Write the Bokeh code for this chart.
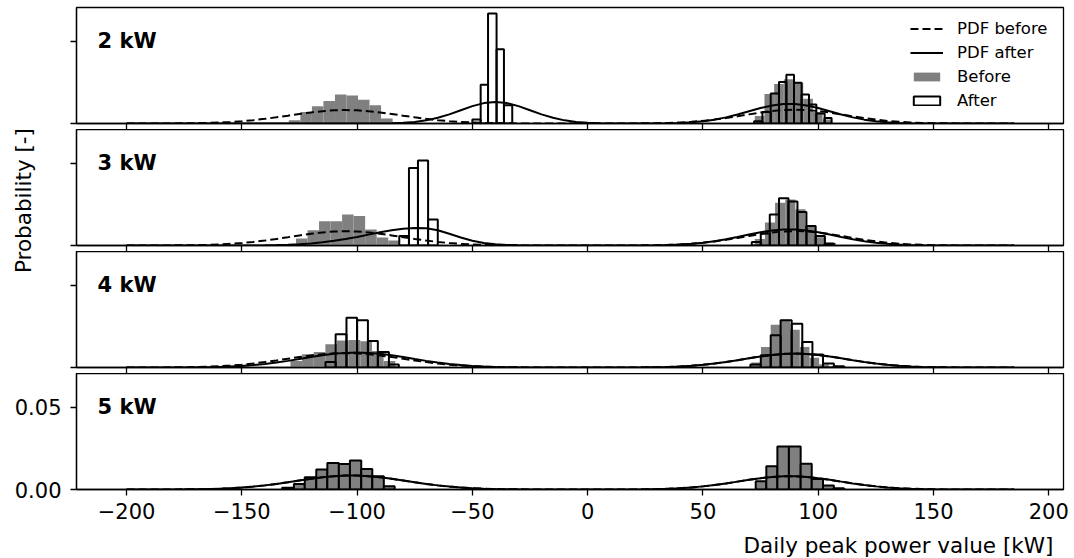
import math
from bokeh.plotting import figure
from bokeh.models import Range1d, FixedTicker, Label, Legend, LegendItem
from bokeh.layouts import column, row
from bokeh.embed import file_html
from bokeh.resources import INLINE

FONT = "DejaVu Sans"

# ---------------- axes / labels ----------------
x_start, x_end = -221.7, 206.4
y_top = 0.0706
x_ticks = [-200, -150, -100, -50, 0, 50, 100, 150, 200]
x_tick_labels = ["\u2212200", "\u2212150", "\u2212100", "\u221250", "0", "50", "100", "150", "200"]
y_ticks = [0.0, 0.05]
y_tick_labels = ["0.00", "0.05"]
panel_names = ["2 kW", "3 kW", "4 kW", "5 kW"]
x_label = "Daily peak power value [kW]"
y_label = "Probability [-]"
legend_labels = ["PDF before", "PDF after", "Before", "After"]

# ---------------- histograms (bin edges, heights) ----------------
# 2 kW
before_2kw_left_edges = [-129.6, -124.6, -119.6, -114.6, -109.6, -104.6, -99.6, -94.6, -89.6, -84.6]
before_2kw_left_h = [0.0020, 0.0070, 0.0105, 0.0137, 0.0176, 0.0171, 0.0145, 0.0111, 0.0030]
before_2kw_right_edges = [72.5, 76.7, 80.9, 85.1, 89.3, 93.5, 97.7, 101.9, 106.1]
before_2kw_right_h = [0.0045, 0.0180, 0.0240, 0.0270, 0.0250, 0.0150, 0.0070, 0.0025]
after_2kw_left_edges = [-50.0, -46.4, -43.2, -39.5, -36.3, -32.7]
after_2kw_left_h = [0.0024, 0.0236, 0.0670, 0.0452, 0.0111]
after_2kw_right_edges = [72.2, 75.8, 79.4, 83.0, 86.2, 89.5, 92.8, 96.0, 99.2, 102.8, 105.8]
after_2kw_right_h = [0.0014, 0.0070, 0.0182, 0.0252, 0.0297, 0.0248, 0.0176, 0.0115, 0.0061, 0.0034]
# 3 kW
before_3kw_left_edges = [-126.5, -121.5, -116.5, -111.5, -106.5, -101.5, -96.5, -91.5, -86.5, -81.5]
before_3kw_left_h = [0.0042, 0.0093, 0.0147, 0.0147, 0.0188, 0.0180, 0.0097, 0.0048, 0.0030]
before_3kw_right_edges = [72.5, 76.9, 81.3, 85.7, 90.1, 94.5, 98.9, 103.3, 107.7]
before_3kw_right_h = [0.0040, 0.0140, 0.0260, 0.0280, 0.0220, 0.0120, 0.0050, 0.0015]
after_3kw_left_edges = [-81.7, -77.5, -73.6, -69.2, -65.0]
after_3kw_left_h = [0.0058, 0.0472, 0.0517, 0.0158]
after_3kw_right_edges = [71.2, 75.1, 79.0, 83.0, 87.1, 91.0, 94.9, 98.9, 102.9, 106.8]
after_3kw_right_h = [0.0022, 0.0073, 0.0188, 0.0288, 0.0268, 0.0204, 0.0119, 0.0058, 0.0012]
# 4 kW
before_4kw_left_edges = [-128.9, -123.85, -118.8, -113.75, -108.7, -103.65, -98.6, -93.55, -88.5, -83.45]
before_4kw_left_h = [0.0040, 0.0081, 0.0094, 0.0141, 0.0165, 0.0168, 0.0160, 0.0100, 0.0040]
before_4kw_right_edges = [71.0, 75.2, 79.4, 83.6, 87.8, 92.0, 96.2, 100.4, 104.6]
before_4kw_right_h = [0.0030, 0.0125, 0.0260, 0.0290, 0.0230, 0.0125, 0.0060, 0.0020]
after_4kw_left_edges = [-113.7, -109.3, -104.6, -100.0, -95.3, -91.0, -86.2, -81.9]
after_4kw_left_h = [0.0034, 0.0202, 0.0303, 0.0287, 0.0161, 0.0094, 0.0018]
after_4kw_right_edges = [70.6, 75.1, 79.4, 83.7, 88.5, 93.1, 97.5, 102.1, 106.8, 111.2]
after_4kw_right_h = [0.0018, 0.0075, 0.0196, 0.0287, 0.0267, 0.0155, 0.0079, 0.0024, 0.0008]
# 5 kW (after identical to before)
before_5kw_left_edges = [-132.5, -127.4, -122.7, -117.7, -112.9, -107.9, -103.1, -98.2, -93.4, -88.4, -83.7]
before_5kw_left_h = [0.0010, 0.0034, 0.0075, 0.0121, 0.0161, 0.0155, 0.0176, 0.0125, 0.0081, 0.0020]
before_5kw_right_edges = [72.9, 77.5, 82.3, 87.3, 92.4, 97.2, 102.1, 106.8, 111.2]
before_5kw_right_h = [0.0050, 0.0141, 0.0262, 0.0262, 0.0157, 0.0064, 0.0024, 0.0008]
after_5kw_left_edges = before_5kw_left_edges
after_5kw_left_h = before_5kw_left_h
after_5kw_right_edges = before_5kw_right_edges
after_5kw_right_h = before_5kw_right_h

# ---------------- PDF curves (values in units of 1e-4), sampled at pdf_x ----------------
pdf_x = list(range(-200, 190, 5))
PDF_UNIT = 1e-4
pdf_before_2kw = [
    0.0, 0.1, 0.2, 0.3, 0.6, 1.2, 2.1, 3.6, 5.9, 9.3, 14.1, 20.4, 28.3, 37.6, 47.6, 58.0, 67.5, 75.2, 80.3, 82.0,
    80.3, 75.2, 67.5, 58.0, 47.6, 37.6, 28.3, 20.4, 14.1, 9.3, 5.9, 3.6, 2.1, 1.2, 0.6, 0.3, 0.2, 0.1, 0.0, 0.0,
    0.0, 0.1, 0.1, 0.3, 0.5, 1.1, 2.0, 3.7, 6.3, 10.3, 16.0, 23.7, 33.1, 44.0, 55.6, 66.5, 75.8, 81.9, 84.0,
    81.9, 75.8, 66.5, 55.6, 44.0, 33.1, 23.7, 16.0, 10.3, 6.3, 3.7, 2.0, 1.1, 0.5, 0.3, 0.1, 0.1, 0.0, 0.0]
pdf_after_2kw = [
    0.0, 0.0, 0.0, 0.0, 0.0, 0.0, 0.0, 0.0, 0.0, 0.0, 0.0, 0.0, 0.0, 0.0, 0.0, 0.0, 0.0, 0.0, 0.0, 0.0,
    0.1, 0.2, 0.6, 1.7, 4.3, 9.6, 19.1, 34.5, 55.7, 81.0, 105.8, 124.2, 131.0, 124.2, 105.8, 81.0, 55.7, 34.5, 19.1, 9.6,
    4.3, 1.7, 0.6, 0.2, 0.2, 0.3, 0.7, 1.7, 3.7, 7.4, 13.7, 23.5, 37.3, 55.0, 74.8, 94.3, 110.0, 118.8, 118.8,
    110.0, 94.3, 74.8, 55.0, 37.3, 23.5, 13.7, 7.4, 3.7, 1.7, 0.7, 0.3, 0.1, 0.0, 0.0, 0.0, 0.0, 0.0, 0.0]
pdf_before_3kw = [
    0.0, 0.1, 0.2, 0.3, 0.7, 1.2, 2.2, 3.8, 6.3, 9.9, 15.0, 21.7, 30.0, 39.8, 50.5, 61.5, 71.6, 79.8, 85.2, 87.0,
    85.2, 79.8, 71.6, 61.5, 50.5, 39.8, 30.0, 21.7, 15.0, 9.9, 6.3, 3.8, 2.2, 1.2, 0.7, 0.3, 0.2, 0.1, 0.0, 0.0,
    0.0, 0.1, 0.1, 0.3, 0.6, 1.1, 2.1, 3.9, 6.6, 10.8, 16.8, 24.8, 34.7, 46.1, 58.3, 69.7, 79.4, 85.8, 88.0,
    85.8, 79.4, 69.7, 58.3, 46.1, 34.7, 24.8, 16.8, 10.8, 6.6, 3.9, 2.1, 1.1, 0.6, 0.3, 0.1, 0.1, 0.0, 0.0]
pdf_after_3kw = [
    0.0, 0.0, 0.0, 0.0, 0.0, 0.0, 0.0, 0.0, 0.1, 0.2, 0.4, 0.7, 1.4, 2.7, 4.7, 7.9, 12.6, 19.4, 28.4, 39.4,
    52.3, 66.3, 80.1, 92.3, 101.4, 106.4, 105.3, 92.7, 71.8, 49.0, 29.4, 15.5, 7.2, 3.0, 1.1, 0.3, 0.1, 0.0, 0.0, 0.0,
    0.0, 0.0, 0.0, 0.1, 0.3, 0.7, 1.6, 3.1, 5.8, 10.3, 16.9, 26.2, 38.1, 52.0, 66.8, 80.7, 91.3, 97.2, 97.2,
    91.3, 80.7, 66.8, 52.0, 38.1, 26.2, 16.9, 10.3, 5.8, 3.1, 1.6, 0.7, 0.3, 0.1, 0.0, 0.0, 0.0, 0.0, 0.0]
pdf_before_4kw = [
    0.1, 0.1, 0.3, 0.5, 1.0, 1.8, 3.0, 4.9, 7.8, 11.9, 17.4, 24.5, 33.0, 42.9, 53.4, 63.9, 73.5, 81.2, 86.2, 88.0,
    86.2, 81.2, 73.5, 63.9, 53.4, 42.9, 33.0, 24.5, 17.4, 11.9, 7.8, 4.9, 3.0, 1.8, 1.0, 0.5, 0.3, 0.1, 0.1, 0.0,
    0.0, 0.1, 0.1, 0.3, 0.5, 1.1, 2.1, 3.7, 6.4, 10.5, 16.2, 24.0, 33.5, 44.5, 56.3, 67.3, 76.7, 82.9, 85.0,
    82.9, 76.7, 67.3, 56.3, 44.5, 33.5, 24.0, 16.2, 10.5, 6.4, 3.7, 2.1, 1.1, 0.5, 0.3, 0.1, 0.1, 0.0, 0.0]
pdf_after_4kw = [
    0.0, 0.0, 0.1, 0.1, 0.3, 0.6, 1.1, 2.0, 3.5, 5.9, 9.5, 14.6, 21.4, 30.0, 40.3, 51.7, 63.3, 74.3, 83.1, 89.0,
    91.0, 89.0, 83.1, 74.3, 63.3, 51.7, 40.3, 30.0, 21.4, 14.6, 9.5, 5.9, 3.5, 2.0, 1.1, 0.6, 0.3, 0.1, 0.1, 0.0,
    0.0, 0.1, 0.1, 0.3, 0.5, 1.1, 2.1, 3.7, 6.4, 10.5, 16.2, 24.0, 33.5, 44.5, 56.3, 67.3, 76.7, 82.9, 85.0,
    82.9, 76.7, 67.3, 56.3, 44.5, 33.5, 24.0, 16.2, 10.5, 6.4, 3.7, 2.1, 1.1, 0.5, 0.3, 0.1, 0.1, 0.0, 0.0]
pdf_after_5kw = [
    0.0, 0.1, 0.1, 0.2, 0.5, 0.9, 1.6, 2.9, 4.8, 7.8, 12.0, 17.8, 25.1, 34.0, 44.1, 54.7, 65.2, 74.2, 80.9, 84.6,
    84.6, 80.9, 74.2, 65.2, 54.7, 44.1, 34.0, 25.1, 17.8, 12.0, 7.8, 4.8, 2.9, 1.6, 0.9, 0.5, 0.2, 0.1, 0.1, 0.0,
    0.0, 0.1, 0.2, 0.4, 0.7, 1.4, 2.7, 4.7, 7.9, 12.6, 19.0, 27.2, 37.1, 48.0, 59.0, 68.9, 76.4, 80.5, 80.5,
    76.4, 68.9, 59.0, 48.0, 37.1, 27.2, 19.0, 12.6, 7.9, 4.7, 2.7, 1.4, 0.7, 0.4, 0.2, 0.1, 0.0, 0.0, 0.0]
pdf_before_5kw = pdf_after_5kw

panels = [
    (panel_names[0], [(before_2kw_left_edges, before_2kw_left_h), (before_2kw_right_edges, before_2kw_right_h)],
     [(after_2kw_left_edges, after_2kw_left_h), (after_2kw_right_edges, after_2kw_right_h)],
     pdf_before_2kw, pdf_after_2kw, False),
    (panel_names[1], [(before_3kw_left_edges, before_3kw_left_h), (before_3kw_right_edges, before_3kw_right_h)],
     [(after_3kw_left_edges, after_3kw_left_h), (after_3kw_right_edges, after_3kw_right_h)],
     pdf_before_3kw, pdf_after_3kw, False),
    (panel_names[2], [(before_4kw_left_edges, before_4kw_left_h), (before_4kw_right_edges, before_4kw_right_h)],
     [(after_4kw_left_edges, after_4kw_left_h), (after_4kw_right_edges, after_4kw_right_h)],
     pdf_before_4kw, pdf_after_4kw, False),
    (panel_names[3], [(before_5kw_left_edges, before_5kw_left_h), (before_5kw_right_edges, before_5kw_right_h)],
     [(after_5kw_left_edges, after_5kw_left_h), (after_5kw_right_edges, after_5kw_right_h)],
     pdf_before_5kw, pdf_after_5kw, True),
]

FRAME_W, FRAME_H = 987, 116
GAP = 6
TOP = 7
LEFT = 76
RIGHT = 8
BOTTOM = 38
GRAY = "#808080"
TOTAL_W = LEFT + FRAME_W + RIGHT

x_range = Range1d(x_start, x_end)
figs = []
for idx, (name, before_hists, after_hists, pdf_b, pdf_a, filled_after) in enumerate(panels):
    last = idx == len(panels) - 1
    p = figure(frame_width=FRAME_W, frame_height=FRAME_H,
               x_range=x_range, y_range=Range1d(0, y_top),
               output_backend="svg", toolbar_location=None,
               min_border_left=LEFT if last else LEFT - 48, min_border_right=RIGHT,
               min_border_top=TOP if idx == 0 else 0,
               min_border_bottom=BOTTOM if last else GAP)
    p.xgrid.visible = False
    p.ygrid.visible = False
    p.outline_line_color = "black"
    p.outline_line_width = 1.3
    p.outline_line_alpha = 1.0
    p.background_fill_color = "white"
    p.border_fill_color = "white"

    for ax in (p.xaxis[0], p.yaxis[0]):
        ax.axis_line_color = "black"
        ax.axis_line_width = 1.3
        ax.major_tick_line_color = "black"
        ax.major_tick_line_width = 1.3
        ax.major_tick_in = 0
        ax.minor_tick_line_color = None
        ax.major_label_text_font = FONT
        ax.major_label_text_color = "black"
    p.xaxis.ticker = FixedTicker(ticks=x_ticks)
    p.yaxis.ticker = FixedTicker(ticks=y_ticks)
    p.yaxis.major_tick_out = 6
    p.xaxis.major_tick_out = 6
    if last:
        p.xaxis.major_label_overrides = {t: s for t, s in zip(x_ticks, x_tick_labels)}
        p.yaxis.major_label_overrides = {t: s for t, s in zip(y_ticks, y_tick_labels)}
        p.xaxis.major_label_text_font_size = "21px"
        p.yaxis.major_label_text_font_size = "21px"
        p.xaxis.major_label_standoff = 7
        p.yaxis.major_label_standoff = 9
    else:
        for ax in (p.xaxis[0], p.yaxis[0]):
            ax.major_label_text_font_size = "0px"
            ax.major_label_standoff = 0
        p.xaxis.major_label_overrides = {t: "" for t in x_ticks}
        p.yaxis.major_label_overrides = {t: "" for t in y_ticks}

    r_before = None
    for edges, h in before_hists:
        r_before = p.quad(left=edges[:-1], right=edges[1:], top=h, bottom=0,
                          fill_color=GRAY, line_color=None)
    r_after = None
    for edges, h in after_hists:
        r_after = p.quad(left=edges[:-1], right=edges[1:], top=h, bottom=0,
                         fill_color=GRAY if filled_after else None,
                         fill_alpha=1.0 if filled_after else 0.0,
                         line_color="black", line_width=2)
    yb = [v * PDF_UNIT for v in pdf_b]
    ya = [v * PDF_UNIT for v in pdf_a]
    r_pb = p.line(pdf_x, yb, line_color="black", line_width=2, line_dash="8 4")
    r_pa = p.line(pdf_x, ya, line_color="black", line_width=2)

    # panel label
    px_per_x = FRAME_W / (x_end - x_start)
    lab_x = x_start + 21 / px_per_x
    lab_y = y_top * (1 - 33 / FRAME_H)
    p.add_layout(Label(x=lab_x, y=lab_y, text=name, text_font=FONT, text_font_size="21px",
                       text_font_style="bold", text_color="black",
                       text_align="left", text_baseline="alphabetic"))

    if idx == 0:
        legend = Legend(items=[
            LegendItem(label=legend_labels[0], renderers=[r_pb]),
            LegendItem(label=legend_labels[1], renderers=[r_pa]),
            LegendItem(label=legend_labels[2], renderers=[r_before]),
            LegendItem(label=legend_labels[3], renderers=[r_after]),
        ], location=(834, 11), orientation="vertical",
            background_fill_alpha=0.0, border_line_alpha=0.0,
            label_text_font=FONT, label_text_font_size="16.5px", label_text_color="black",
            glyph_width=33, glyph_height=11, label_height=24, label_standoff=14,
            spacing=0, padding=0, margin=0)
        p.add_layout(legend)
    figs.append(p)

# y-axis label column (left of the three upper panels)
top_h = TOP + 3 * (FRAME_H + GAP)
lab_fig = figure(width=48, height=top_h, x_range=Range1d(0, 48), y_range=Range1d(0, top_h),
                 min_border=0, x_axis_location=None, y_axis_location=None,
                 output_backend="svg", toolbar_location=None)
lab_fig.outline_line_color = None
lab_fig.xgrid.visible = False
lab_fig.ygrid.visible = False
lab_fig.add_layout(Label(x=23, y=top_h - 200, text=y_label, angle=math.pi / 2,
                         text_font=FONT, text_font_size="21.5px", text_color="black",
                         text_align="center", text_baseline="middle"))

# x-axis label strip (right-aligned to the frame's right edge)
XL_H = 30
xl_fig = figure(width=TOTAL_W, height=XL_H, x_range=Range1d(0, TOTAL_W), y_range=Range1d(0, XL_H),
                min_border=0, x_axis_location=None, y_axis_location=None,
                output_backend="svg", toolbar_location=None)
xl_fig.outline_line_color = None
xl_fig.xgrid.visible = False
xl_fig.ygrid.visible = False
xl_fig.add_layout(Label(x=LEFT + FRAME_W - 3, y=XL_H - 18, text=x_label,
                        text_font=FONT, text_font_size="21.5px", text_color="black",
                        text_align="right", text_baseline="middle"))

layout = column(row(lab_fig, column(figs[0], figs[1], figs[2])), figs[3], xl_fig)
open("out.html", "w").write(file_html(layout, INLINE))
